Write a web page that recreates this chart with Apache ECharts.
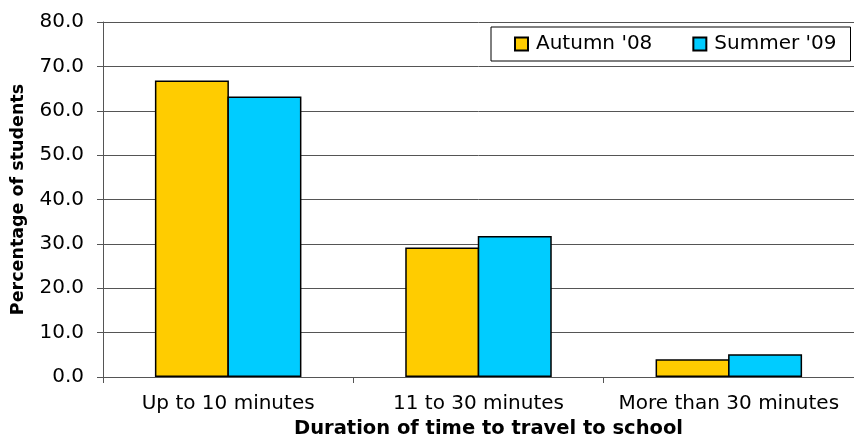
<!DOCTYPE html>
<html>
<head>
<meta charset="utf-8">
<script src="https://cdn.jsdelivr.net/npm/echarts@6/dist/echarts.min.js"></script>
<style>
html,body{margin:0;padding:0;background:#fff;}
#chart{width:854px;height:444px;}
</style>
</head>
<body>
<div id="chart"></div>
<script>
var categories = ['Up to 10 minutes', '11 to 30 minutes', 'More than 30 minutes'];
var autumn08 = [66.8, 29.2, 4.0];
var summer09 = [63.2, 31.8, 5.1];
var seriesNames = ["Autumn '08", "Summer '09"];
var yTicks = [0, 10, 20, 30, 40, 50, 60, 70, 80];

var FONT = 'DejaVu Sans';
var chart = echarts.init(document.getElementById('chart'), null, {renderer: 'canvas'});
chart.setOption({
  animation: false,
  backgroundColor: '#ffffff',
  textStyle: {fontFamily: FONT},
  grid: {left: 103, top: 22, width: 757, height: 355, containLabel: false},
  legend: {
    left: 491, top: 27,
    padding: [7, 14, 7, 23],
    borderColor: '#000', borderWidth: 1,
    itemWidth: 13, itemHeight: 13, itemGap: 40,
    icon: 'rect',
    textStyle: {fontFamily: FONT, fontSize: 20, color: '#000', padding: [0, 0, 0, 3]},
    data: seriesNames
  },
  xAxis: {
    type: 'category',
    data: categories,
    name: 'Duration of time to travel to school',
    nameLocation: 'middle',
    nameGap: 31,
    nameTextStyle: {fontFamily: FONT, fontSize: 19.5, fontWeight: 'bold', color: '#000', padding: [0, 0, 0, 20]},
    axisLine: {lineStyle: {color: '#555', width: 1}},
    axisTick: {show: true, length: 6, lineStyle: {color: '#555'}},
    axisLabel: {fontFamily: FONT, fontSize: 20, color: '#000', margin: 17, interval: 0}
  },
  yAxis: {
    type: 'value',
    min: yTicks[0], max: yTicks[yTicks.length - 1], interval: 10,
    name: 'Percentage of students',
    nameLocation: 'middle',
    nameGap: 76,
    nameTextStyle: {fontFamily: FONT, fontSize: 17.5, fontWeight: 'bold', color: '#000'},
    axisLine: {show: true, lineStyle: {color: '#555', width: 1}},
    axisTick: {show: true, length: 6, lineStyle: {color: '#555'}},
    axisLabel: {fontFamily: FONT, fontSize: 20, color: '#000', margin: 19,
      formatter: function (v) { return v.toFixed(1); }},
    splitLine: {show: true, lineStyle: {color: '#555', width: 1}}
  },
  series: [
    {name: seriesNames[0], type: 'bar', data: autumn08, barWidth: 74, barGap: '-2%',
      itemStyle: {color: '#FFCC00', borderColor: '#000', borderWidth: 1.5}},
    {name: seriesNames[1], type: 'bar', data: summer09, barWidth: 74, barGap: '-2%',
      itemStyle: {color: '#00CCFF', borderColor: '#000', borderWidth: 1.5}}
  ]
});
</script>
</body>
</html>
